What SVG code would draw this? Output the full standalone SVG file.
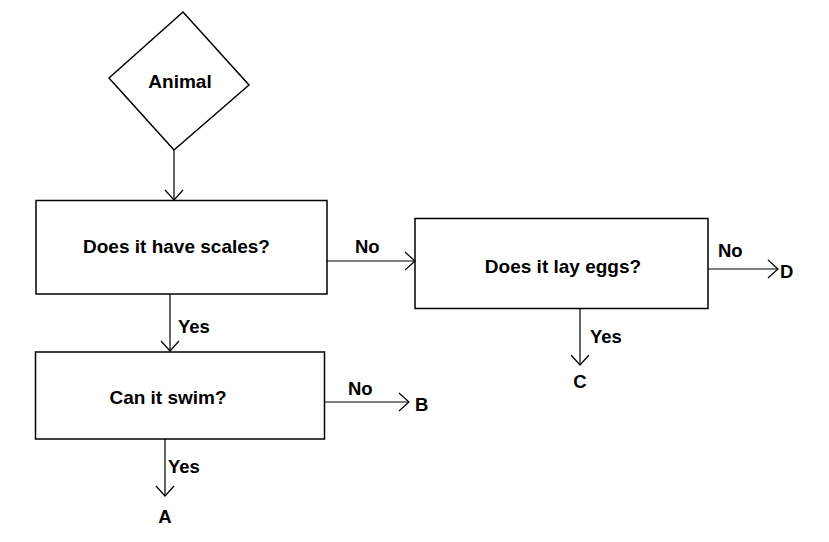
<svg xmlns="http://www.w3.org/2000/svg" width="829" height="542" viewBox="0 0 829 542">
<style>
.shape{fill:#ffffff;stroke:#000000;stroke-width:1.5}
.t{font-family:"Liberation Sans",Arial,sans-serif;font-weight:bold;font-size:19px;fill:#000000}
.l{font-family:"Liberation Sans",Arial,sans-serif;font-weight:bold;font-size:18.5px;fill:#000000}
.c{fill:none;stroke:#000000;stroke-width:1.2}
</style>
<defs>
<marker id="arr" viewBox="0 0 12 20" refX="11" refY="10" markerWidth="12" markerHeight="20" markerUnits="userSpaceOnUse" orient="auto">
<path d="M1,1 L11,10 L1,19" fill="none" stroke="#000000" stroke-width="1.2"/>
</marker>
</defs>
<rect width="829" height="542" fill="#ffffff"/>
<g id="animal">
<polygon class="shape" points="183,12 249,85 174,150 109,78"/>
<text class="t" x="180" y="88" text-anchor="middle">Animal</text>
</g>
<g id="scales">
<rect class="shape" x="36" y="200.5" width="291" height="93.5"/>
<text class="t" x="176.5" y="252.5" text-anchor="middle">Does it have scales?</text>
</g>
<g id="eggs">
<rect class="shape" x="415" y="218.5" width="293" height="90"/>
<text class="t" x="563" y="272.5" text-anchor="middle">Does it lay eggs?</text>
</g>
<g id="swim">
<rect class="shape" x="35.5" y="352" width="289" height="87"/>
<text class="t" x="168" y="404" text-anchor="middle">Can it swim?</text>
</g>
<g id="connectors">
<line class="c" x1="174" y1="150" x2="174" y2="200" marker-end="url(#arr)"/>
<line class="c" x1="327" y1="261" x2="415" y2="261" marker-end="url(#arr)"/>
<line class="c" x1="170" y1="294" x2="170" y2="351" marker-end="url(#arr)"/>
<line class="c" x1="708" y1="269" x2="778" y2="269" marker-end="url(#arr)"/>
<line class="c" x1="580" y1="308.5" x2="580" y2="365" marker-end="url(#arr)"/>
<line class="c" x1="324.5" y1="402" x2="409" y2="402" marker-end="url(#arr)"/>
<line class="c" x1="165" y1="439" x2="165" y2="496" marker-end="url(#arr)"/>
<text class="l" x="355" y="253">No</text>
<text class="l" x="178" y="333">Yes</text>
<text class="l" x="718" y="257">No</text>
<text class="l" x="780" y="278">D</text>
<text class="l" x="590" y="343">Yes</text>
<text class="l" x="580" y="387.5" text-anchor="middle">C</text>
<text class="l" x="348" y="395">No</text>
<text class="l" x="415" y="411">B</text>
<text class="l" x="168" y="473">Yes</text>
<text class="l" x="165" y="523" text-anchor="middle">A</text>
</g>
</svg>
